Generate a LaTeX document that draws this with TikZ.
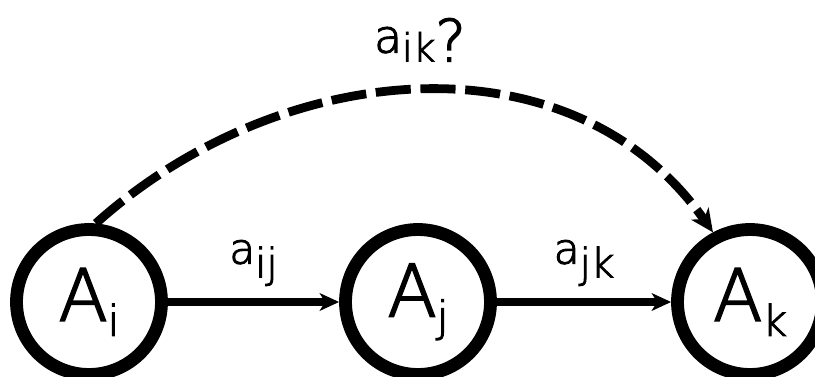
\documentclass[tikz,border=0pt]{standalone}
\usepackage{fontspec}
\setmainfont{DejaVu Sans ExtraLight}[FakeBold=2.5, BoldFont={DejaVu Sans ExtraLight}]
\usetikzlibrary{arrows.meta}

% text with a lowered index
\newcommand{\statename}[2]{{\fontsize{41pt}{41pt}\selectfont #1}\raisebox{-8.5pt}{\fontsize{24pt}{24pt}\selectfont #2}}
\newcommand{\weightname}[2]{{\fontsize{24pt}{24pt}\selectfont #1}\raisebox{-7.8pt}{\fontsize{23pt}{23pt}\selectfont #2}}

\begin{document}
\begin{tikzpicture}[
    x=0.02cm, y=0.02cm,
    >={Stealth[length=11pt, width=10pt, inset=3pt]},
    state/.style={circle, draw, line width=7.3pt, minimum size=2.9cm, inner sep=0pt, font=\bfseries},
    link/.style={->, line width=4.5pt},
    guess/.style={-{Stealth[length=13pt, width=12pt, inset=4pt]}, line width=5pt, dash pattern=on 20pt off 5.5pt},
    weight/.style={inner sep=0pt, font=\bfseries}
]

    % Frame (815 x 376 px)
    \useasboundingbox (0,0) rectangle (815,376);

    % 1. States
    \node[state] (ai) at (89,74)  {\statename{A}{i}};
    \node[state] (aj) at (418,74) {\statename{A}{j}};
    \node[state] (ak) at (750,74) {\statename{A}{k}};

    % 2. Known links
    \draw[link] (ai) -- node[weight, above=7pt] {\weightname{a}{ij}} (aj);
    \draw[link] (aj) -- node[weight, above=7pt] {\weightname{a}{jk}} (ak);

    % 3. Unknown link
    \draw[guess] (ai.85) to[out=42, in=125, looseness=1.02]
        node[weight, above=14pt] {{\fontsize{26pt}{26pt}\selectfont a}\raisebox{-5pt}{\fontsize{22pt}{22pt}\selectfont ik\fontsize{33pt}{33pt}\selectfont ?}} (ak.118);

\end{tikzpicture}
\end{document}
